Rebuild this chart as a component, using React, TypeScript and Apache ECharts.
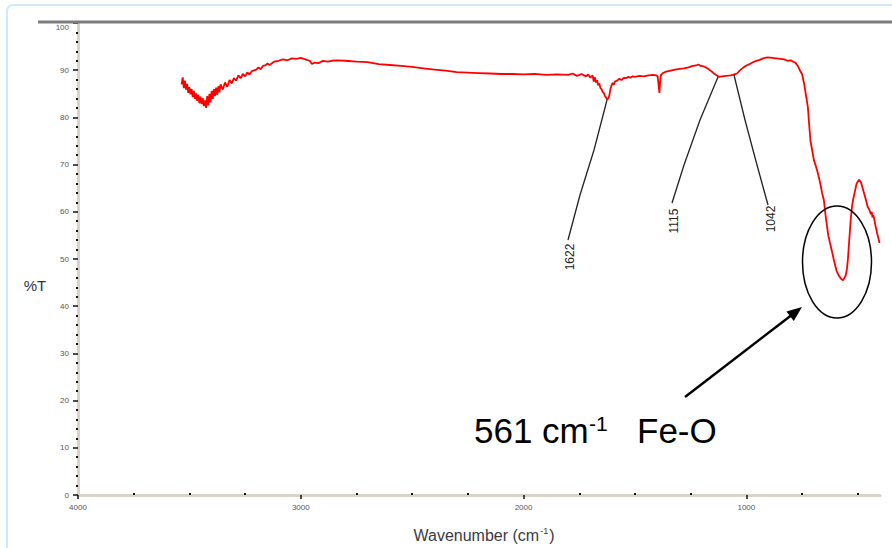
import React, { useEffect, useRef } from "react";
import * as echarts from "echarts";

// ---- Data ----
const wavenumbers = [
  3535, 3530, 3525, 3520, 3515, 3510, 3505, 3500, 3495, 3490, 3485, 3480, 3475, 3470, 3465, 3460,
  3455, 3450, 3445, 3440, 3435, 3430, 3425, 3420, 3415, 3410, 3405, 3400, 3395, 3390, 3385, 3380,
  3375, 3370, 3365, 3360, 3350, 3340, 3330, 3320, 3310, 3300, 3290, 3280, 3270, 3260, 3250, 3240,
  3230, 3220, 3200, 3190, 3180, 3170, 3160, 3150, 3140, 3120, 3100, 3080, 3060, 3040, 3020, 3000,
  2980, 2960, 2950, 2940, 2920, 2900, 2880, 2860, 2840, 2800, 2750, 2700, 2650, 2600, 2550, 2500,
  2450, 2400, 2350, 2300, 2250, 2200, 2150, 2100, 2050, 2000, 1950, 1900, 1850, 1800, 1780, 1760,
  1740, 1720, 1710, 1700, 1690, 1685, 1680, 1675, 1670, 1665, 1660, 1655, 1650, 1645, 1640, 1635,
  1630, 1625, 1620, 1615, 1610, 1605, 1600, 1595, 1590, 1580, 1570, 1560, 1550, 1540, 1530, 1520,
  1510, 1500, 1480, 1460, 1440, 1420, 1405, 1398, 1393, 1390, 1387, 1383, 1375, 1360, 1340, 1320,
  1300, 1280, 1260, 1240, 1225, 1215, 1205, 1190, 1175, 1160, 1145, 1130, 1120, 1110, 1090, 1070,
  1055, 1042, 1030, 1015, 1000, 985, 970, 955, 940, 925, 905, 885, 865, 845, 830, 815,
  800, 790, 780, 770, 760, 750, 740, 730, 724, 718, 712, 705, 697, 690, 679, 668,
  660, 652, 645, 638, 632, 625, 615, 607, 595, 585, 575, 566, 560, 554, 548, 544,
  538, 532, 526, 521, 514, 505, 494, 485, 475, 463, 455, 448, 441, 437, 434, 430,
  427, 420, 413, 405, 402,
];
const transmittance = [
  87.0, 88.5, 86.2, 87.8, 85.9, 87.1, 85.2, 86.4, 84.9, 86.0, 84.3, 85.6, 83.9, 85.1, 83.5, 84.8,
  83.0, 84.4, 82.8, 84.1, 82.4, 83.6, 82.0, 84.5, 82.6, 85.0, 83.2, 85.6, 83.9, 86.0, 84.5, 86.3,
  84.8, 86.6, 85.3, 87.0, 85.9, 87.4, 86.5, 87.9, 87.2, 88.3, 87.8, 88.9, 88.3, 89.2, 88.7, 89.5,
  89.1, 89.8, 90.1, 90.6, 90.2, 90.9, 91.0, 91.4, 91.1, 91.8, 92.0, 92.3, 92.1, 92.5, 92.4, 92.6,
  92.3, 92.0, 91.3, 91.6, 91.5, 92.0, 91.8, 92.0, 92.1, 92.0, 91.8, 91.7, 91.3, 91.1, 90.9, 90.7,
  90.4, 90.1, 89.9, 89.6, 89.5, 89.4, 89.3, 89.2, 89.2, 89.1, 89.2, 89.0, 89.1, 89.0, 89.3, 88.8,
  89.2, 88.7, 89.1, 88.4, 88.9, 87.6, 88.5, 87.4, 87.9, 86.8, 87.2, 86.2, 86.0, 85.4, 85.2, 84.6,
  84.2, 83.8, 84.0, 84.6, 86.0, 86.8, 87.3, 86.9, 87.6, 87.8, 88.2, 87.9, 88.4, 88.3, 88.6, 88.4,
  88.7, 88.6, 88.8, 88.7, 88.9, 89.0, 88.9, 88.7, 86.5, 85.2, 87.5, 89.0, 89.4, 89.7, 89.9, 90.1,
  90.3, 90.4, 90.6, 90.9, 91.0, 91.2, 90.9, 90.8, 90.4, 89.9, 89.3, 88.8, 88.6, 88.7, 88.8, 88.9,
  89.1, 89.3, 89.9, 90.5, 91.0, 91.3, 91.7, 92.0, 92.2, 92.5, 92.7, 92.6, 92.5, 92.4, 92.3, 92.0,
  92.1, 91.8, 91.6, 91.0, 90.0, 89.2, 87.0, 84.0, 82.3, 78.5, 75.0, 73.2, 71.0, 70.0, 68.2, 66.0,
  64.0, 62.5, 59.5, 57.0, 55.0, 53.5, 51.5, 49.8, 47.5, 46.5, 45.8, 45.5, 46.0, 46.5, 48.0, 50.0,
  54.0, 58.0, 61.0, 62.5, 64.0, 66.0, 66.8, 66.2, 64.5, 62.5, 61.0, 60.5, 59.5, 60.0, 58.8, 59.3,
  58.7, 57.0, 55.5, 54.0, 53.4,
];
const xMajorTicks = [1000, 2000, 3000, 4000];
const xMinorTicks = [500, 750, 1250, 1500, 1750, 2250, 2500, 2750, 3250, 3500, 3750];
const peakLabels = ["1622", "1115", "1042"];
const annotationMain = "561 cm";
const annotationSup = "-1";
const annotationTail = "Fe-O";
const yAxisTitle = "%T";

const FONT = "'Liberation Sans', Arial, Helvetica, sans-serif";

export default function App() {
  const ref = useRef<HTMLDivElement>(null);

  useEffect(() => {
    document.body.style.margin = "0";
    if (!ref.current) return;
    const chart = echarts.init(ref.current, undefined, { renderer: "svg" });
    const seriesData = wavenumbers.map((w, i) => [w, transmittance[i]]);

    // peak annotation geometry (pixel layout)
    const peakLines = [
      [[607, 100], [594, 150], [580, 195], [568, 240]],
      [[718, 77], [700, 120], [684, 165], [672, 203]],
      [[734, 75], [745, 120], [757, 165], [768, 205]],
    ];
    const peakLabelPos = [[570, 257], [674, 221], [771, 219]];

    // arrow
    const tail = [685, 397];
    const tip = [802, 307];
    const dx = tip[0] - tail[0];
    const dy = tip[1] - tail[1];
    const len = Math.sqrt(dx * dx + dy * dy);
    const ux = dx / len, uy = dy / len;
    const hl = 15, hw = 6;
    const bx = tip[0] - ux * hl, by = tip[1] - uy * hl;
    const arrowHead = [
      [tip[0], tip[1]],
      [bx - uy * hw, by + ux * hw],
      [bx + uy * hw, by - ux * hw],
    ];

    const graphic: any[] = [
      {
        type: "rect",
        silent: true,
        shape: { x: 7, y: 5, width: 900, height: 560, r: 6 },
        style: { fill: "none", stroke: "#d3e7fa", lineWidth: 2 },
        z: 1,
      },
      {
        type: "line",
        silent: true,
        shape: { x1: 7, y1: 10, x2: 7, y2: 548 },
        style: {
          stroke: new echarts.graphic.LinearGradient(0, 0, 0, 1, [
            { offset: 0, color: "#d3e7fa" },
            { offset: 0.35, color: "#7fb8ee" },
            { offset: 1, color: "#1f77cf" },
          ]),
          lineWidth: 3,
        },
        z: 2,
      },
      {
        type: "line",
        silent: true,
        shape: { x1: 38, y1: 22, x2: 892, y2: 22 },
        style: { stroke: "#7d7d7d", lineWidth: 3 },
        z: 5,
      },
      {
        type: "text",
        x: 35,
        y: 285,
        style: {
          text: yAxisTitle,
          font: `15px ${FONT}`,
          fill: "#2e3444",
          align: "center",
          verticalAlign: "middle",
        },
      },
      {
        type: "text",
        x: 484,
        y: 535,
        style: {
          text: "{a|Wavenumber (cm}{s|-1}{a|)}",
          align: "center",
          verticalAlign: "middle",
          rich: {
            a: { fontSize: 16, fontFamily: FONT, fill: "#3a3a44", color: "#3a3a44" },
            s: { fontSize: 9, fontFamily: FONT, fill: "#3a3a44", color: "#3a3a44", verticalAlign: "top", padding: [0, 1, 8, 1] },
          },
        },
      },
      ...peakLines.map((pts) => ({
        type: "polyline",
        silent: true,
        shape: { points: pts },
        style: { stroke: "#222", lineWidth: 1.3, fill: "none" },
        z: 6,
      })),
      ...peakLabels.map((t, i) => ({
        type: "text",
        x: peakLabelPos[i][0],
        y: peakLabelPos[i][1],
        rotation: Math.PI / 2,
        style: {
          text: t,
          font: `12px ${FONT}`,
          fill: "#222",
          align: "center",
          verticalAlign: "middle",
        },
        z: 6,
      })),
      {
        type: "ellipse",
        silent: true,
        shape: { cx: 837, cy: 262, rx: 34.5, ry: 56 },
        style: { fill: "none", stroke: "#000", lineWidth: 1.5 },
        z: 7,
      },
      {
        type: "line",
        silent: true,
        shape: { x1: tail[0], y1: tail[1], x2: bx + ux * 2, y2: by + uy * 2 },
        style: { stroke: "#000", lineWidth: 2.5 },
        z: 7,
      },
      {
        type: "polygon",
        silent: true,
        shape: { points: arrowHead },
        style: { fill: "#000" },
        z: 7,
      },
      {
        type: "text",
        x: 474,
        y: 430,
        style: {
          text: annotationMain,
          font: `35px ${FONT}`,
          fill: "#000",
          align: "left",
          verticalAlign: "middle",
        },
        z: 8,
      },
      {
        type: "text",
        x: 589,
        y: 423,
        style: {
          text: annotationSup,
          font: `21px ${FONT}`,
          fill: "#000",
          align: "left",
          verticalAlign: "middle",
        },
        z: 8,
      },
      {
        type: "text",
        x: 637,
        y: 430,
        style: {
          text: annotationTail,
          font: `35px ${FONT}`,
          fill: "#000",
          align: "left",
          verticalAlign: "middle",
        },
        z: 8,
      },
    ];

    chart.setOption({
      animation: false,
      backgroundColor: "#ffffff",
      grid: { left: 78, right: 12, top: 23, bottom: 53, containLabel: false },
      xAxis: [
        {
          type: "value",
          inverse: true,
          min: 400,
          max: 4000,
          axisLine: { show: true, onZero: false, lineStyle: { color: "#d8d4cb", width: 3 } },
          axisTick: {
            show: true,
            customValues: xMajorTicks,
            length: 4,
            lineStyle: { color: "#111", width: 1.5 },
          },
          axisLabel: {
            show: true,
            customValues: xMajorTicks,
            formatter: (v: number) => String(v),
            fontSize: 8,
            fontFamily: FONT,
            color: "#555",
            margin: 8,
          },
          splitLine: { show: false },
        },
        {
          type: "value",
          inverse: true,
          min: 400,
          max: 4000,
          position: "bottom",
          axisLine: { show: false, onZero: false },
          axisTick: {
            show: true,
            customValues: xMinorTicks,
            inside: true,
            length: 2,
            lineStyle: { color: "#111", width: 2 },
          },
          axisLabel: { show: false },
          splitLine: { show: false },
        },
      ],
      yAxis: {
        type: "value",
        min: 0,
        max: 100,
        interval: 10,
        axisLine: { show: true, lineStyle: { color: "#d8d4cb", width: 3 } },
        axisTick: { show: true, length: 5, lineStyle: { color: "#111", width: 1.5 } },
        minorTick: { show: true, splitNumber: 5, length: 2, lineStyle: { color: "#111", width: 2 } },
        axisLabel: {
          formatter: (v: number) => String(v),
          fontSize: 8,
          fontFamily: FONT,
          color: "#555",
          margin: 9,
          verticalAlignMaxLabel: "top",
        },
        splitLine: { show: false },
        minorSplitLine: { show: false },
      },
      series: [
        {
          type: "line",
          xAxisIndex: 0,
          data: seriesData,
          showSymbol: false,
          symbol: "none",
          lineStyle: { color: "#ff0000", width: 1.8 },
          z: 3,
        },
      ],
      graphic,
    });

    return () => {
      chart.dispose();
    };
  }, []);

  return <div ref={ref} style={{ width: 892, height: 548 }} />;
}
